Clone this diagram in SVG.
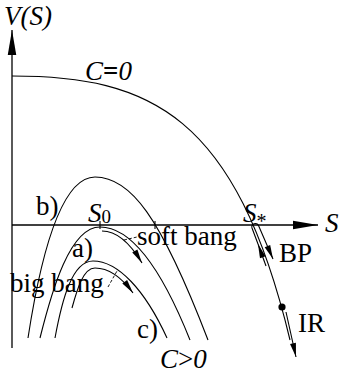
<svg xmlns="http://www.w3.org/2000/svg" width="344" height="379" viewBox="0 0 344 379">
<style>
.ln{fill:none;stroke:#000;stroke-width:1.1}
.ax{fill:none;stroke:#000;stroke-width:1.3}
.ds{fill:none;stroke:#000;stroke-width:0.9;stroke-dasharray:3,2}
.i{font-style:italic}
.sub{font-size:19px}
</style>
<defs>
<marker id="axArrow" markerUnits="userSpaceOnUse" markerWidth="25" markerHeight="9" refX="25" refY="4.25" orient="auto" overflow="visible">
<path d="M0,0 L25,4.25 L0,8.5 z" fill="#000"/>
</marker>
<marker id="arr" markerUnits="userSpaceOnUse" markerWidth="14" markerHeight="6" refX="14" refY="3" orient="auto" overflow="visible">
<path d="M0,0 L14,3 L0,6 z" fill="#000"/>
</marker>
</defs>
<g id="axes">
<line class="ax" x1="12" y1="348" x2="12" y2="30" marker-end="url(#axArrow)"/>
<line class="ax" x1="12" y1="225" x2="318" y2="225" marker-end="url(#axArrow)"/>
<line class="ln" x1="100" y1="221" x2="100" y2="229"/>
<line class="ln" x1="155" y1="221" x2="155" y2="229"/>
</g>
<g id="curves">
<path id="c0" class="ln" d="M12,76 C150,76 236,115 290,340"/>
<path id="cb" class="ln" d="M28,338 C40,260 60,177 95,177 C130,177 160,215 208,340"/>
<path id="ca" class="ln" d="M40,338 C52,290 70,227 100,227 C130,227 160,265 190,340"/>
<path id="cc" class="ln" d="M55,338 C62,300 72,261 93,261 C118,261 145,290 167,338"/>
</g>
<g id="trajectories">
<path class="ln" d="M102,231 C116,231 130,243 142,263" marker-end="url(#arr)"/>
<path class="ln" d="M72,308 C77,290 83,268 95,268 C110,268 122,278 133,293" marker-end="url(#arr)"/>
<path class="ln" d="M266,266 L258,244" marker-end="url(#arr)"/>
<path class="ln" d="M258,244 L252,228 A3.5,3.5 0 0 1 258.5,225.5 L273,259" marker-end="url(#arr)"/>
<path class="ln" d="M286,312 L296,357" marker-end="url(#arr)"/>
<circle cx="282" cy="307" r="3.6" fill="#000"/>
<line class="ds" x1="124" y1="240" x2="137" y2="237"/>
<line class="ds" x1="108" y1="287" x2="117" y2="271"/>
</g>
<g id="labels" font-family="Liberation Serif, Times New Roman, serif" font-size="27" fill="#000">
<text class="i" x="4" y="25">V(S)</text>
<text x="85" y="80"><tspan class="i">C</tspan><tspan font-weight="bold">=</tspan><tspan class="i">0</tspan></text>
<text x="36" y="215">b)</text>
<text x="88" y="222"><tspan class="i">S</tspan><tspan class="sub" dy="1">0</tspan></text>
<text x="243" y="222"><tspan class="i">S</tspan><tspan font-size="20" dy="6">*</tspan></text>
<text class="i" x="325" y="232">S</text>
<text x="72" y="257">a)</text>
<text x="137" y="245">soft bang</text>
<text x="10" y="292">big bang</text>
<text x="279" y="262">BP</text>
<text x="298" y="332">IR</text>
<text x="137" y="338">c)</text>
<text x="160" y="368"><tspan class="i">C</tspan>&gt;<tspan class="i">0</tspan></text>
</g>
</svg>
